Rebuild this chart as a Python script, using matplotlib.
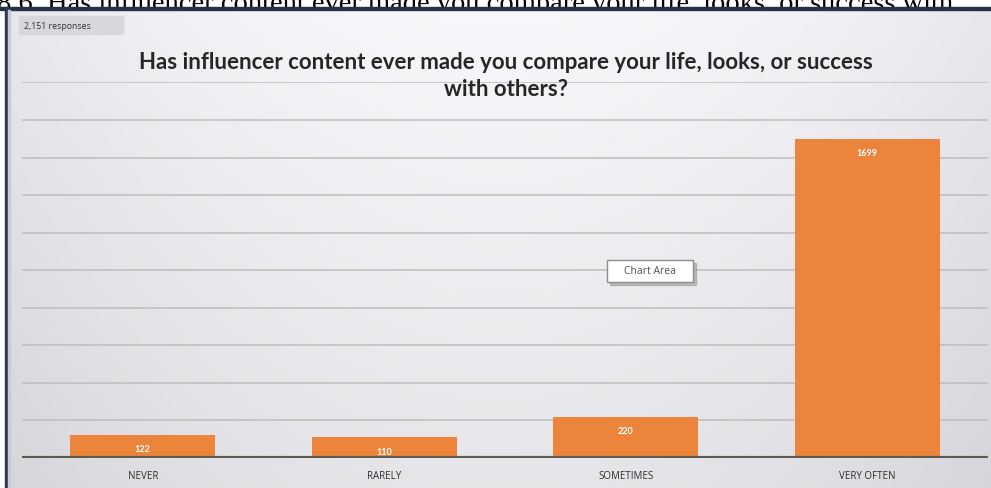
import matplotlib
matplotlib.use('Agg')
import matplotlib.pyplot as plt
from matplotlib.patches import Rectangle
import numpy as np

# survey answers
categories = ['NEVER', 'RARELY', 'SOMETIMES', 'VERY OFTEN']
counts = [122, 110, 220, 1699]
total_label = '2,151 responses'
question = 'Has influencer content ever made you compare your life, looks, or success\nwith others?'
header = '8 6. Has influencer content ever made you compare your life, looks, or success with'

plt.rcParams['font.serif'] = ['Liberation Serif', 'DejaVu Serif']

W, H = 991, 489
fig = plt.figure(figsize=(W / 100, H / 100), dpi=100)
fig.patch.set_facecolor('white')

# pixel-space layer for the window frame and background
bg = fig.add_axes([0, 0, 1, 1])
bg.set_xlim(0, W)
bg.set_ylim(H, 0)
bg.axis('off')

# header line cut off by the frame
bg.text(-3, 11, header, fontsize=20.5, family='serif', color='black',
        va='baseline', ha='left', zorder=1)

# soft grey gradient for the chart area
nx, ny = 300, 150
xx, yy = np.meshgrid(np.linspace(-1, 1, nx), np.linspace(0, 1, ny))
shade = 0.975 - 0.06 * xx ** 2 - 0.07 * yy
rgb = np.dstack([shade - 0.004, shade - 0.006, shade + 0.008]).clip(0, 1)
bg.imshow(rgb, extent=[8, W, H, 10], aspect='auto', zorder=2, interpolation='bilinear')

# dark frame edges
bg.add_patch(Rectangle((0, 8), W, 3, color='#27324a', zorder=3))
bg.add_patch(Rectangle((5, 8), 3, H, color='#2e3a55', zorder=3))
bg.add_patch(Rectangle((8, 11), 2, H, color='#c9ccd6', zorder=3))

# response count box
bg.add_patch(Rectangle((19, 17), 104, 18, color='#d8d8dc', zorder=3))
bg.text(24, 26.5, total_label, fontsize=6.3, color='#333333', va='center', ha='left',
        family='Open Sans', zorder=4)

# bar chart
ax = fig.add_axes([22 / W, (H - 459) / H, 966 / W, 375.6 / H], zorder=5)
ax.patch.set_alpha(0)
x = np.arange(len(categories))
bars = ax.bar(x, counts, width=0.6, color='#ec843c', zorder=3)
ax.set_xlim(-0.5, len(categories) - 0.5)
ax.set_ylim(0, 2000)

for yv in range(200, 2001, 200):
    ax.axhline(yv, color='#bdbdbd', lw=1.1, zorder=1)
ax.axhline(0, color='#5e5a52', lw=3, zorder=4)

for b, v in zip(bars, counts):
    ax.annotate(str(v), (b.get_x() + b.get_width() / 2, v), xytext=(0, -10),
                textcoords='offset points', ha='center', va='center',
                fontsize=6.5, fontweight='bold', color='white', family='Lato', zorder=5)

ax.set_xticks(x)
ax.set_xticklabels(categories, fontsize=7, color='#2e2e2e', family='Open Sans')
ax.tick_params(axis='x', length=0, pad=9)
ax.set_yticks([])
for s in ax.spines.values():
    s.set_visible(False)

# chart title
fig.text(506 / W, 1 - 76 / H, question, ha='center', va='center', fontsize=16,
         fontweight='bold', color='#262626', family='Lato', linespacing=1.4, zorder=6)

# hover tooltip
fig_ax = fig.add_axes([0, 0, 1, 1], zorder=10)
fig_ax.set_xlim(0, W)
fig_ax.set_ylim(H, 0)
fig_ax.axis('off')
fig_ax.add_patch(Rectangle((610, 264), 86, 22, color='#9a9a9a', alpha=0.6))
fig_ax.add_patch(Rectangle((607, 261), 86, 22, facecolor='white', edgecolor='#8c8c8c', lw=1))
fig_ax.text(650, 272, 'Chart Area', fontsize=7.5, color='#505050', ha='center', va='center',
            family='Open Sans')

plt.savefig('out.png', dpi=100)
